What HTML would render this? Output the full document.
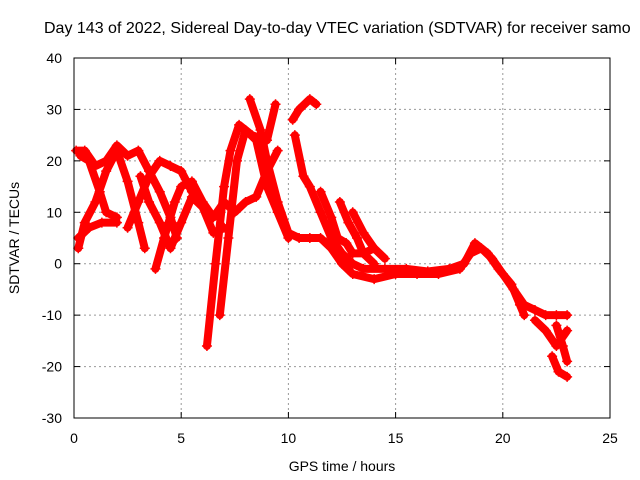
<!DOCTYPE html>
<html><head><meta charset="utf-8"><style>
body{margin:0;background:#fff;}
svg{display:block;font-family:"Liberation Sans",sans-serif;}
</style></head><body>
<svg width="640" height="480" id="chart">
<text x="44" y="33" font-size="16" fill="#000">Day 143 of 2022, Sidereal Day-to-day VTEC variation (SDTVAR) for receiver samo</text>
<g id="grid"></g>
<g id="marks"></g>
<rect x="74" y="58" width="536" height="360" fill="none" stroke="#000" stroke-width="1"/>
<g id="ticks"></g>
<text x="342" y="471" font-size="14" text-anchor="middle">GPS time / hours</text>
<text transform="translate(19,238) rotate(-90)" font-size="14" text-anchor="middle">SDTVAR / TECUs</text>
</svg>
<script>
const xTicks=[0,5,10,15,20,25];
const yTicks=[40,30,20,10,0,-10,-20,-30];
const trackTimes=[
[0.2,0.5,1,1.5,2,2.5,3,3.3],
[0.1,0.5,1,1.5,2,2.5,3,3.5,4,4.5,4.8],
[0.2,0.7,1.3,2],
[0.3,0.7,1.2,1.5,2],
[2.5,3,3.5,4,4.5,5,5.5,6,6.5,7],
[3.8,4.2,4.7,5,5.5,6,6.5,7,7.5,8,8.5,9,9.5],
[3.1,3.5,4,4.5,5,5.5,6],
[6.2,6.6,7,7.3,7.7,8.3,9,9.4],
[6.8,7.2,7.6,8,8.5,9,9.5,10],
[8.2,8.7,9,9.5,10,10.5,11,11.5,12,12.5,13,14,15,16,17,18,18.5,19,19.5,20,20.5,21,21.5,22,22.5,23],
[10.2,10.5,11,11.3],
[10.3,10.7,11,11.5,12,12.5,13,13.5,14.5,15.5,16.5,17.5,18.2,18.7,19.3,19.8,20.4,20.8,21],
[11.5,12,12.3,12.7,13,13.5,14],
[12.4,12.8,13.2,13.5,14],
[13,13.5,14,14.5],
[21.5,22,22.5,23],
[22.3,22.6,23],
[22.5,22.8,23]
];
const trackValues=[
[3,8,12,18,22,16,8,3],
[22,22,19,20,23,21,22,18,14,9,5],
[5,7,8,8],
[21,20,14,10,9],
[7,12,17,20,19,18,14,11,6,7],
[-1,5,12,15,16,12,9,12,10,12,13,18,22],
[17,12,8,3,8,13,11],
[-16,0,15,22,27,25,24,31],
[-10,5,20,26,24,15,10,5],
[32,26,20,12,6,5,5,5,3,0,-2,-3,-2,-2,-2,-1,2,3,1,-2,-5,-8,-9,-10,-10,-10],
[28,30,32,31],
[25,17,15,10,5,2,0,-1,-1,-1,-1.5,-1,0,4,2,-1,-4,-8,-10],
[14,9,5,4,2,2,3],
[12,8,5,2,0],
[10,6,3,1],
[-11,-13,-16,-13],
[-18,-21,-22],
[-12,-16,-19]
];
const NS="http://www.w3.org/2000/svg";
const X=h=>74+h*536/25;
const Y=v=>58+(40-v)*360/70;
const grid=document.getElementById('grid'),ticks=document.getElementById('ticks'),marks=document.getElementById('marks');
function mk(tag,attrs,parent){const e=document.createElementNS(NS,tag);for(const k in attrs)e.setAttribute(k,attrs[k]);parent.appendChild(e);return e;}
xTicks.forEach(t=>{
  const x=X(t);
  if(t>0&&t<25){const g=mk('line',{x1:x,y1:58,x2:x,y2:418,stroke:'#999','stroke-dasharray':'2,3'},grid);
  
  }
  mk('line',{x1:x,y1:418,x2:x,y2:412,stroke:'#000'},ticks);
  mk('line',{x1:x,y1:58,x2:x,y2:64,stroke:'#000'},ticks);
  const l=mk('text',{x:x,y:443,'font-size':14,'text-anchor':'middle'},ticks);l.textContent=t;
  
  
});
yTicks.forEach(t=>{
  const y=Y(t);
  if(t<40&&t>-30){const g=mk('line',{x1:74,y1:y,x2:610,y2:y,stroke:'#999','stroke-dasharray':'2,3'},grid);
  
  }
  mk('line',{x1:74,y1:y,x2:80,y2:y,stroke:'#000'},ticks);
  mk('line',{x1:610,y1:y,x2:604,y2:y,stroke:'#000'},ticks);
  const l=mk('text',{x:62,y:y+5,'font-size':14,'text-anchor':'end'},ticks);l.textContent=t;
  
  
});
trackTimes.forEach((ts,i)=>{
  const vs=trackValues[i];
  const pts=ts.map((t,j)=>X(t)+','+Y(vs[j])).join(' ');
  const p=mk('polyline',{points:pts,fill:'none',stroke:'#f00','stroke-width':8,'stroke-linejoin':'round','stroke-linecap':'round'},marks);
  
  
  ts.forEach((t,j)=>{
    const x=X(t),y=Y(vs[j]);
    const m=mk('path',{d:`M${x-5},${y}H${x+5}M${x},${y-5}V${y+5}`,stroke:'#f00','stroke-width':1.5},marks);
    
    
  });
});
</script>
</body></html>
